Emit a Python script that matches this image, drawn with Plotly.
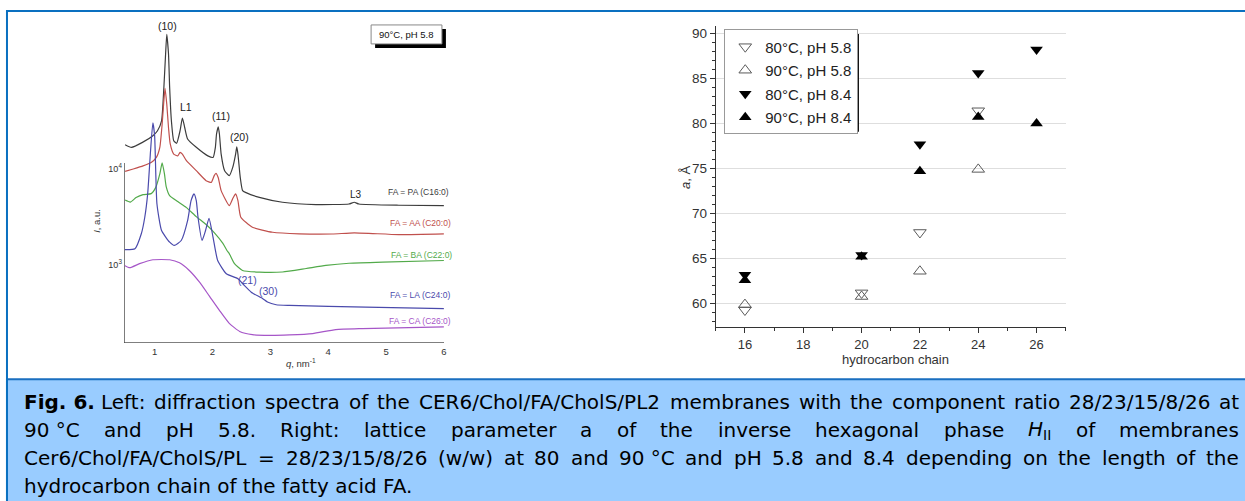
import math
import plotly.graph_objects as go

# ---------------- Left panel: diffraction spectra (q, nm^-1 ; I, a.u.) ----------------
q_pa = [0.49, 0.60, 0.79, 0.97, 1.05, 1.12, 1.16, 1.19, 1.21, 1.24, 1.26, 1.29, 1.33, 1.38, 1.44,
        1.48, 1.52, 1.57, 1.72, 1.92, 2.01, 2.05, 2.07, 2.10, 2.12, 2.15, 2.21, 2.29, 2.35, 2.40,
        2.42, 2.44, 2.48, 2.52, 2.58, 2.81, 3.21, 3.79, 4.36, 4.45, 4.53, 5.22, 6.0]
I_pa = [17800, 16700, 18800, 22100, 24900, 31600, 70300, 158000, 253000, 158000, 70300, 31600,
        19600, 18400, 24900, 33700, 26900, 20400, 16700, 13600, 13100, 16700, 23000, 27400, 23000,
        14200, 9530, 8460, 10300, 14200, 16900, 14200, 8110, 5910, 5620, 5010, 4460, 4220, 4280,
        4460, 4280, 4150, 4120]

q_aa = [0.49, 0.63, 0.80, 0.94, 1.03, 1.09, 1.13, 1.16, 1.18, 1.21, 1.24, 1.27, 1.33, 1.40, 1.44,
        1.48, 1.55, 1.72, 1.89, 1.98, 2.03, 2.06, 2.10, 2.15, 2.29, 2.35, 2.40, 2.44, 2.49, 2.69,
        3.04, 3.50, 4.07, 4.45, 5.22, 6.0]
I_aa = [9370, 9930, 10700, 11600, 13100, 16700, 29200, 51100, 69000, 47200, 26900, 18100, 14200,
        13600, 14800, 14200, 12100, 9530, 7500, 7200, 8460, 8940, 8050, 5900, 4120, 4870, 5450,
        4640, 3110, 2450, 2170, 2090, 2080, 2140, 2050, 2090]

q_ba = [0.49, 0.58, 0.68, 0.80, 0.94, 1.02, 1.09, 1.13, 1.17, 1.20, 1.26, 1.40, 1.55, 1.72, 1.89,
        2.03, 2.18, 2.25, 2.29, 2.38, 2.52, 2.81, 3.21, 3.62, 3.96, 4.36, 4.94, 6.0]
I_ba = [4700, 4480, 4990, 5360, 5490, 6380, 8810, 11500, 8810, 6500, 5230, 4530, 3920, 3160, 2610,
        2150, 1660, 1400, 1300, 1020, 866, 832, 835, 908, 977, 1030, 1060, 1100]

q_la = [0.48, 0.66, 0.77, 0.83, 0.88, 0.93, 0.97, 1.00, 1.04, 1.12, 1.26, 1.34, 1.46, 1.57, 1.63,
        1.68, 1.72, 1.75, 1.82, 1.88, 1.94, 2.01, 2.09, 2.24, 2.44, 2.55, 2.67, 2.87, 2.95, 3.10,
        3.33, 4.65, 6.0]
I_la = [1430, 1460, 2090, 3110, 5450, 15400, 30100, 22100, 4310, 2260, 1710, 1580, 1780, 2870,
        4640, 5450, 4640, 3110, 1780, 2260, 3030, 1920, 1100, 800, 710, 604, 514, 439, 405, 380,
        374, 359, 346]

q_ca = [0.48, 0.57, 0.74, 0.97, 1.26, 1.43, 1.60, 1.78, 1.95, 2.12, 2.29, 2.47, 2.69, 2.98, 3.33,
        3.73, 4.13, 4.59, 6.0]
I_ca = [977, 925, 1020, 1120, 1120, 1040, 866, 649, 464, 332, 243, 200, 185, 182, 184, 190, 209,
        214, 223]

spectra_names = ["FA = PA (C16:0)", "FA = AA (C20:0)", "FA = BA (C22:0)", "FA = LA (C24:0)", "FA = CA (C26:0)"]
spectra_colors = ["#3c3c3c", "#c0504d", "#52aa4a", "#4a4aac", "#a656c8"]

left_xticks = [1, 2, 3, 4, 5, 6]
left_yticks = [1000, 10000]
left_yticktext = ["10<sup>3</sup>", "10<sup>4</sup>"]
left_yminor = [200, 300, 400, 500, 600, 700, 800, 900, 2000, 3000, 4000, 5000, 6000, 7000, 8000, 9000]

# ---------------- Right panel: lattice parameter a (Å) vs chain length ----------------
chain_58 = [16, 20, 22, 24]
chain_84 = [16, 20, 22, 24, 26]
a_80_58 = [59.3, 61.2, 67.9, 81.4]
a_90_58 = [59.9, 60.8, 63.6, 74.9]
a_80_84 = [63.2, 65.4, 77.7, 85.6, 88.2]
a_90_84 = [62.6, 65.2, 74.7, 80.7, 80.0]
right_series = ["80°C, pH 5.8", "90°C, pH 5.8", "80°C, pH 8.4", "90°C, pH 8.4"]
right_xticks = [16, 18, 20, 22, 24, 26]
right_yticks = [60, 65, 70, 75, 80, 85, 90]

# ---------------- Caption ----------------
caption_line1 = ["<b>Fig. 6.</b>", "Left:", "diffraction", "spectra", "of", "the", "CER6/Chol/FA/CholS/PL2",
                 "membranes", "with", "the", "component", "ratio", "28/23/15/8/26", "at"]
caption_line2 = ["90 °C", "and", "pH", "5.8.", "Right:", "lattice", "parameter", "a", "of", "the", "inverse",
                 "hexagonal", "phase", "<i>H</i><sub>II</sub>", "of", "membranes"]
caption_line3 = ["Cer6/Chol/FA/CholS/PL", "=", "28/23/15/8/26", "(w/w)", "at", "80", "and", "90 °C", "and",
                 "pH", "5.8", "and", "8.4", "depending", "on", "the", "length", "of", "the"]
caption_line4 = "hydrocarbon chain of the fatty acid FA."

W, H = 1245, 501
FONT = "Liberation Sans, Arial, sans-serif"
CAPFONT = "DejaVu Sans, Liberation Sans, sans-serif"


def px(x):
    return x / W


def py(y):
    return 1 - y / H


# approximate DejaVu Sans advance widths (units of 1/2048 em), used to justify the caption lines
_DV = {" ": 651, "(": 799, ")": 799, ",": 651, "-": 739, ".": 651, "/": 690, ":": 690, "=": 1716, "°": 1024,
       "A": 1401, "B": 1405, "C": 1430, "D": 1577, "E": 1294, "F": 1178, "G": 1587, "H": 1540, "I": 604,
       "L": 1141, "M": 1767, "P": 1235, "R": 1423, "S": 1300, "T": 1251,
       "a": 1255, "b": 1300, "c": 1126, "d": 1300, "e": 1260, "f": 721, "g": 1300, "h": 1298, "i": 569,
       "j": 569, "k": 1186, "l": 569, "m": 1995, "n": 1298, "o": 1253, "p": 1300, "q": 1300, "r": 842,
       "s": 1067, "t": 803, "u": 1298, "v": 1212, "w": 1675, "x": 1212, "y": 1212, "z": 1075}


def text_width(word, size):
    bold = word.startswith("<b>")
    plain = word.replace("<b>", "").replace("</b>", "").replace("<i>", "").replace("</i>", "")
    total = 0.0
    if "<sub>" in plain:
        main, sub = plain.split("<sub>")
        sub = sub.replace("</sub>", "")
        total += sum(_DV.get(ch, 1303) for ch in main) + 0.7 * sum(_DV.get(ch, 1303) for ch in sub)
    else:
        total = sum(_DV.get(ch, 1303) for ch in plain)
    w = total / 2048.0 * size
    return w * 1.1 if bold else w


fig = go.Figure()

# empty trace so that the visible (log-decade) left y axis gets its own subplot drawn
fig.add_trace(go.Scatter(x=[], y=[], mode="lines", xaxis="x", yaxis="y", showlegend=False, hoverinfo="skip"))

for q, I, c in zip([q_pa, q_aa, q_ba, q_la, q_ca], [I_pa, I_aa, I_ba, I_la, I_ca], spectra_colors):
    fig.add_trace(go.Scatter(x=q, y=I, mode="lines", xaxis="x", yaxis="y2", showlegend=False,
                             hoverinfo="skip",
                             line=dict(color=c, width=1.2, shape="spline", smoothing=0.5)))

open_col = "#5a5a5a"
fig.add_trace(go.Scatter(x=chain_58, y=a_80_58, mode="markers", name=right_series[0], xaxis="x2", yaxis="y3",
                         legendgroup="g1",
                         marker=dict(symbol="triangle-down-open", size=11, color=open_col, line=dict(width=1, color=open_col))))
fig.add_trace(go.Scatter(x=chain_58, y=a_90_58, mode="markers", name=right_series[1], xaxis="x2", yaxis="y3",
                         legendgroup="g2",
                         marker=dict(symbol="triangle-up-open", size=11, color=open_col, line=dict(width=1, color=open_col))))
fig.add_trace(go.Scatter(x=chain_84, y=a_80_84, mode="markers", name=right_series[2], xaxis="x2", yaxis="y3",
                         legendgroup="g3",
                         marker=dict(symbol="triangle-down", size=11, color="#000000")))
fig.add_trace(go.Scatter(x=chain_84, y=a_90_84, mode="markers", name=right_series[3], xaxis="x2", yaxis="y3",
                         legendgroup="g4",
                         marker=dict(symbol="triangle-up", size=11, color="#000000")))

axis_col = "#444444"
tick_font_small = dict(family=FONT, size=9, color="#333333")

# visible left y axis is drawn in log10 units (same pixel scale as the log axis used by the curves)
yax_lo, yax_hi = 2.1875, 4.0625

fig.update_layout(
    width=W, height=H,
    margin=dict(l=0, r=0, t=0, b=0),
    paper_bgcolor="white", plot_bgcolor="white",
    font=dict(family=FONT, color="#222222"),
    xaxis=dict(domain=[px(125), px(445)], range=[0.483, 6.0], anchor="y",
               showline=True, linecolor=axis_col, linewidth=1, showgrid=False, zeroline=False,
               ticks="inside", ticklen=4, tickcolor=axis_col, tickvals=left_xticks,
               tickfont=dict(family=FONT, size=9.5, color="#333333"),
               minor=dict(ticks="inside", ticklen=2, tickcolor=axis_col, dtick=0.5, tick0=0)),
    yaxis=dict(type="linear", domain=[py(342), py(162)], range=[yax_lo, yax_hi], anchor="x",
               showline=True, linecolor=axis_col, linewidth=1, showgrid=False, zeroline=False,
               ticks="inside", ticklen=4, tickcolor=axis_col,
               tickmode="array", tickvals=[math.log10(v) for v in left_yticks], ticktext=left_yticktext,
               tickfont=tick_font_small,
               minor=dict(ticks="inside", ticklen=2, tickcolor=axis_col, tickmode="array",
                          tickvals=[math.log10(v) for v in left_yminor])),
    yaxis2=dict(type="log", domain=[py(342), py(20)], range=[2.1875, 5.5417], anchor="x",
                visible=False, showgrid=False, zeroline=False),
    xaxis2=dict(domain=[px(717.5), px(1068.3)], range=[15.0, 27.0], anchor="y3",
                showline=True, linecolor="#333333", linewidth=1, showgrid=False, zeroline=False,
                ticks="outside", ticklen=5, tickcolor="#333333", tickvals=right_xticks,
                tickfont=dict(family=FONT, size=13, color="#333333"),
                minor=dict(ticks="outside", ticklen=3, tickcolor="#333333", dtick=1, tick0=15)),
    yaxis3=dict(domain=[py(326.7), py(25)], range=[57.41, 90.81], anchor="x2",
                showline=True, linecolor="#333333", linewidth=1, showgrid=True, gridcolor="#dedede",
                gridwidth=1, zeroline=False,
                ticks="outside", ticklen=5, tickcolor="#333333", tickvals=right_yticks,
                tickfont=dict(family=FONT, size=13.5, color="#333333"),
                minor=dict(ticks="outside", ticklen=3, tickcolor="#333333", dtick=1, tick0=0)),
    legend=dict(x=px(726), y=py(28.5), xanchor="left", yanchor="top", bgcolor="white",
                bordercolor="#999999", borderwidth=1, traceorder="grouped", tracegroupgap=1,
                font=dict(family=FONT, size=15, color="#222222")),
)

shapes = []
# legend shadow
shapes.append(dict(type="rect", xref="paper", yref="paper", x0=px(729), x1=px(861), y0=py(131), y1=py(33),
                   fillcolor="black", line=dict(width=0), layer="above"))
# left label box shadow and box
shapes.append(dict(type="rect", xref="paper", yref="paper", x0=px(376), x1=px(447), y0=py(47), y1=py(28),
                   fillcolor="black", line=dict(width=0), layer="above"))
shapes.append(dict(type="rect", xref="paper", yref="paper", x0=px(372), x1=px(443), y0=py(43), y1=py(24),
                   fillcolor="white", line=dict(width=1, color="#888888"), layer="above"))
# caption box
shapes.append(dict(type="rect", xref="paper", yref="paper", x0=px(7), x1=px(1260), y0=py(515), y1=py(379),
                   fillcolor="#99ccff", line=dict(width=2, color="#1a6fc0"), layer="above"))
# outer frame
shapes.append(dict(type="rect", xref="paper", yref="paper", x0=px(7), x1=px(1260), y0=py(515), y1=py(10),
                   fillcolor="rgba(0,0,0,0)", line=dict(width=2, color="#0a70c0"), layer="above"))

annotations = []


def ann(text, x, y, size, color="#222222", xanchor="center", yanchor="middle", angle=0, family=FONT):
    annotations.append(dict(text=text, x=px(x), y=py(y), xref="paper", yref="paper", showarrow=False,
                            xanchor=xanchor, yanchor=yanchor, textangle=angle,
                            font=dict(family=family, size=size, color=color)))


# left panel labels
ann("90°C, pH 5.8", 407.5, 33.5, 9.5, "#111111")
ann("(10)", 167.5, 25, 10.5)
ann("L1", 186, 106.5, 10.5)
ann("(11)", 221.5, 115.5, 10.5)
ann("(20)", 240, 136.5, 10.5)
ann("L3", 356.5, 194, 10)
ann("(21)", 248.5, 279.5, 10.5, spectra_colors[3])
ann("(30)", 269.5, 291, 10.5, spectra_colors[3])
label_pos = [(420, 191.5), (421.5, 222.5), (423, 254.5), (421, 295), (421.5, 321)]
for name, col, (lx, ly) in zip(spectra_names, spectra_colors, label_pos):
    ann(name, lx, ly, 8.5, col)
ann("<i>q</i>, nm<sup>-1</sup>", 302, 363, 9.5, "#333333")
ann("<i>I</i>, a.u.", 96.5, 220, 9.5, "#333333", angle=-90)

# right panel axis titles
ann("hydrocarbon chain", 898, 359, 13, "#333333")
ann("<i>a</i>, Å", 687, 177, 13, "#333333", angle=-90)

# caption: justified lines (words spread evenly between the two edges), last line left aligned
CAP = 20
L_EDGE, R_EDGE = 22, 1240


def justified(words, yc):
    widths = [text_width(w, CAP) for w in words]
    gap = (R_EDGE - L_EDGE - sum(widths)) / (len(words) - 1)
    x = L_EDGE
    for w, wd in zip(words, widths):
        ann(w, x, yc, CAP, "#000000", xanchor="left", family=CAPFONT)
        x += wd + gap


justified(caption_line1, 402)
justified(caption_line2, 430)
justified(caption_line3, 458)
ann(caption_line4, L_EDGE, 485.5, CAP, "#000000", xanchor="left", family=CAPFONT)

fig.update_layout(shapes=shapes, annotations=annotations)

fig.write_html("out.html")
